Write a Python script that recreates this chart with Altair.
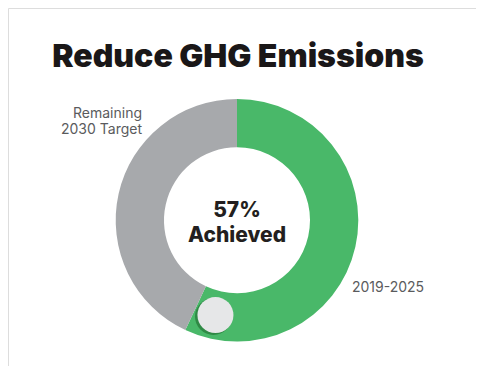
import altair as alt
import pandas as pd

title_text = "Reduce GHG Emissions"
segments = ["2019-2025", "Remaining 2030 Target"]
values = [57, 43]
seg_colors = ["#49b869", "#a7a9ac"]
achieved_pct = 57
center_lines = ["57%", "Achieved"]
remaining_lines = ["Remaining", "2030 Target"]

W, H = 468, 358
CX, CY = 229, 212.3
R_OUT, R_IN = 121.3, 73
R_MID = (R_OUT + R_IN) / 2
KNOB_R = 18
KNOB_GAP = 21
FONT = "Inter"

df = pd.DataFrame({"segment": segments, "value": values, "order": [0, 1]})

donut = alt.Chart(df).mark_arc(outerRadius=R_OUT, innerRadius=R_IN).encode(
    theta=alt.Theta("value:Q", stack=True),
    order=alt.Order("order:Q"),
    color=alt.Color("segment:N", scale=alt.Scale(domain=segments, range=seg_colors), legend=None),
    x=alt.value(CX), y=alt.value(CY),
)

knob_df = pd.DataFrame({"pct": [achieved_pct]})
knob_base = alt.Chart(knob_df).transform_calculate(
    ang=f"2*PI*datum.pct/100 - {KNOB_GAP}/{R_MID}"
).transform_calculate(
    kx="sin(datum.ang)", ky="cos(datum.ang)"
)
xs = alt.Scale(domain=[-1, 1], range=[CX - R_MID, CX + R_MID])
ys = alt.Scale(domain=[-1, 1], range=[CY + R_MID, CY - R_MID])

shadow = knob_base.mark_point(shape="circle", filled=True, size=(2 * KNOB_R + 1) ** 2,
                              color="#2f8a45", opacity=1, xOffset=-2, yOffset=1.5).encode(
    x=alt.X("kx:Q", scale=xs, axis=None), y=alt.Y("ky:Q", scale=ys, axis=None))
knob = knob_base.mark_point(shape="circle", filled=True, size=(2 * KNOB_R) ** 2,
                            color="#e6e7e8", opacity=1).encode(
    x=alt.X("kx:Q", scale=xs, axis=None), y=alt.Y("ky:Q", scale=ys, axis=None))


def txt(s, x, y, size, weight, color, align):
    return alt.Chart(pd.DataFrame({"t": [s]})).mark_text(
        font=FONT, fontWeight=weight, fontSize=size, color=color,
        align=align, baseline="alphabetic").encode(
        text="t:N", x=alt.value(x), y=alt.value(y))


title = txt(title_text, CX + 1, 59, 32, 900, "#1a1718", "center")
c1 = txt(center_lines[0], CX, 209, 21, 800, "#231f20", "center")
c2 = txt(center_lines[1], CX, 234, 21, 800, "#231f20", "center")
rem1 = txt(remaining_lines[0], 134, 110, 14, 400, "#5a5b5d", "right")
rem2 = txt(remaining_lines[1], 134, 126, 14, 400, "#5a5b5d", "right")
yr = txt(segments[0], 344, 284, 14, 400, "#5a5b5d", "left")

chart = alt.layer(donut, shadow, knob, title, c1, c2, rem1, rem2, yr).properties(
    width=W, height=H,
    autosize=alt.AutoSizeParams(type="none"),
    padding=0,
).configure_view(stroke="transparent", strokeWidth=0).configure(background="white")

chart.save("out.html", embed_options={"renderer": "svg", "actions": False})
